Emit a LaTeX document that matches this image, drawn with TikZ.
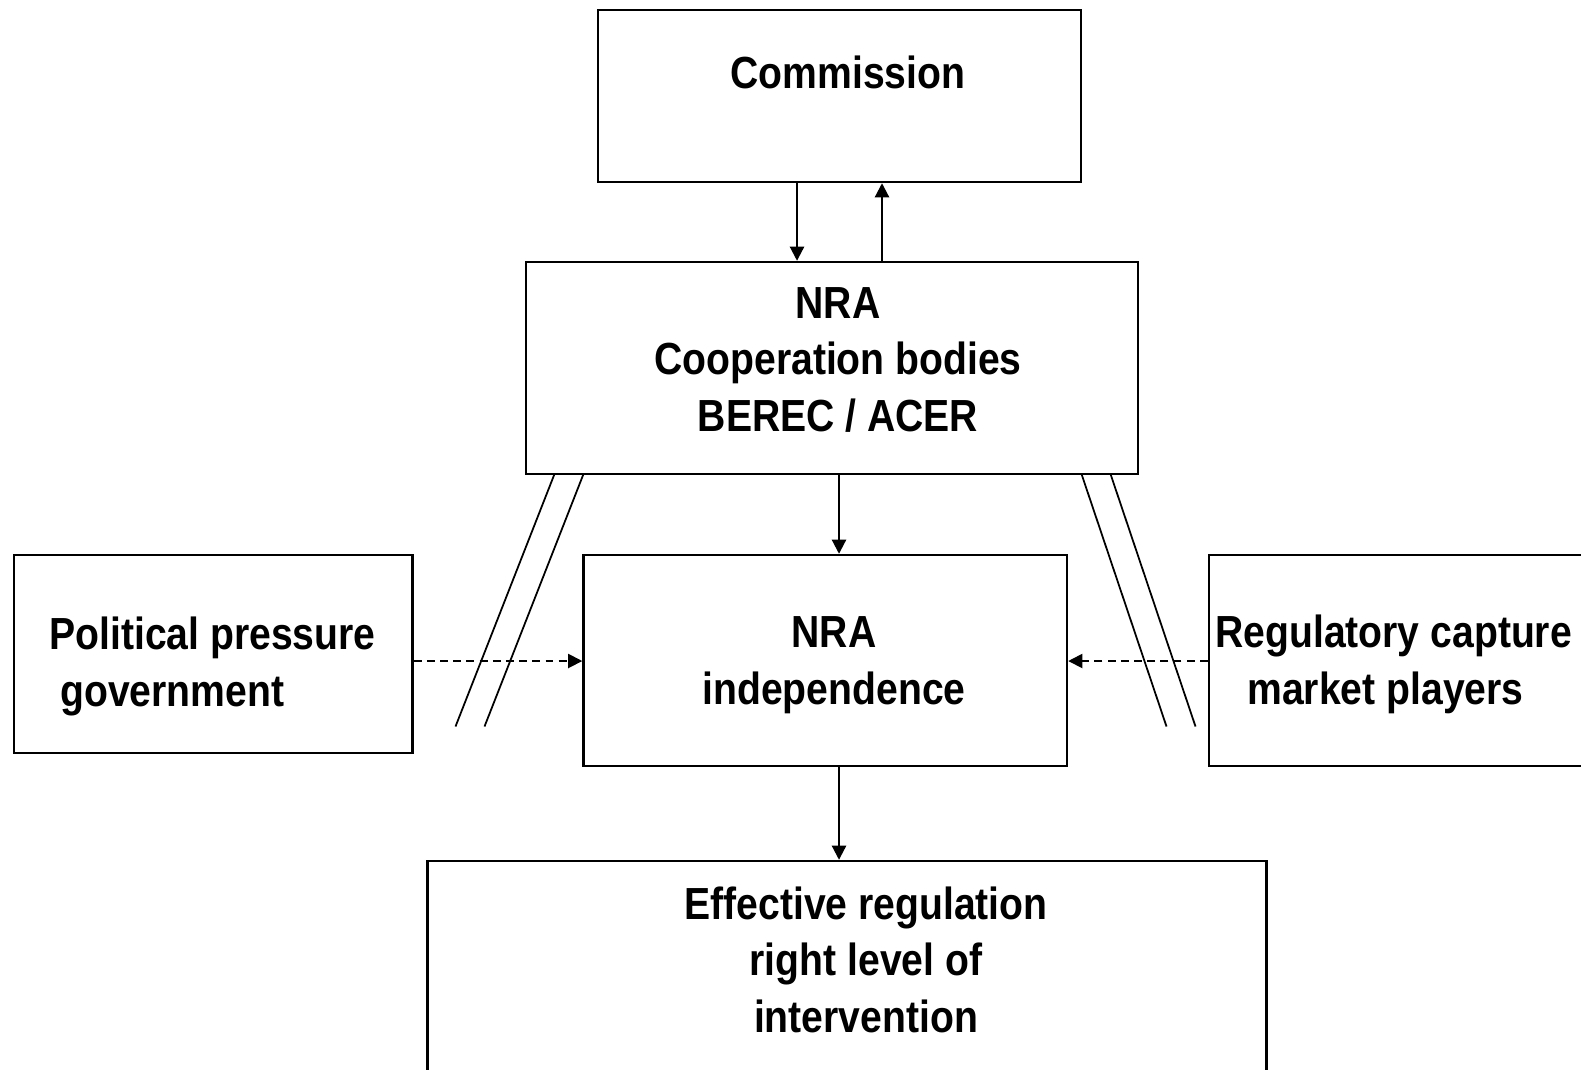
\documentclass[tikz,border=0pt]{standalone}
\usepackage{fontspec}
\setmainfont[FakeStretch=0.87]{Liberation Sans}
\usetikzlibrary{arrows.meta,fit}

\tikzset{
  box/.style={draw, line width=1.4pt, inner sep=0pt},
  boxtext/.style={font=\fontsize{25.6pt}{31.9pt}\selectfont\bfseries, align=center, inner sep=0pt, anchor=base},
  link/.style={line width=1.2pt, -{Triangle[length=8pt,width=8pt]}},
  push/.style={link, line width=1pt, dash pattern=on 4.5pt off 3pt},
  wall/.style={line width=1pt}
}

\begin{document}
\begin{tikzpicture}[x=0.02cm,y=-0.02cm]
        \useasboundingbox (0,0) rectangle (1581,1069);
        \clip (0,0) rectangle (1581,1069);

        % Boxes
        \node[box, fit={(598,10) (1081,182)}] (comm) {};
        \node[box, fit={(526,262) (1138,474)}] (nra) {};
        \node[box, fit={(583.5,555) (1067,766)}] (indep) {};
        \node[box, fit={(14,555) (412.5,753)}] (polit) {};
        \node[box, fit={(1209,555) (1620,766)}] (capture) {};
        \node[box, fit={(427.5,861) (1266.5,1110)}] (effect) {};

        % Texts (anchored at the baseline of the last line)
        \node[boxtext] (commtext) at (848,88) {Commission};
        \node[boxtext] (nratext) at (838,431) {NRA\\Cooperation bodies\\BEREC / ACER};
        \node[boxtext] (indeptext) at (834,704) {NRA\\independence};
        \node[boxtext, align=left, anchor=base west] (polittext) at (49,706) {Political pressure\\\hspace*{0.22cm}government};
        \node[boxtext, align=left, anchor=base west] (capturetext) at (1215,704) {Regulatory capture\\\hspace*{0.64cm}market players};
        \node[boxtext] (effecttext) at (866,1032) {Effective regulation\\right level of\\intervention};

        % Arrows between Commission and NRA
        \draw[link] ([xshift=-0.85cm]comm.south) -- ([xshift=-0.85cm]comm.south |- nra.north);
        \draw[link] ([xshift=0.85cm]comm.south |- nra.north) -- ([xshift=0.85cm]comm.south);

        % Main line down
        \coordinate (spine) at (839,0);
        \draw[link] (nra.south -| spine) -- (indep.north -| spine);
        \draw[link] (indep.south -| spine) -- (effect.north -| spine);

        % Pressures from outside
        \coordinate (level) at (0,661);
        \draw[push] (polit.east |- level) -- (indep.west |- level);
        \draw[push] (capture.west |- level) -- (indep.east |- level);

        % Draw the shielding walls
        \foreach \dx in {0,29} {
            \draw[wall] (554.5+\dx,474) -- (455.5+\dx,726.5);
            \draw[wall] (1081.5+\dx,474) -- (1166.5+\dx,726.5);
        }
\end{tikzpicture}
\end{document}
